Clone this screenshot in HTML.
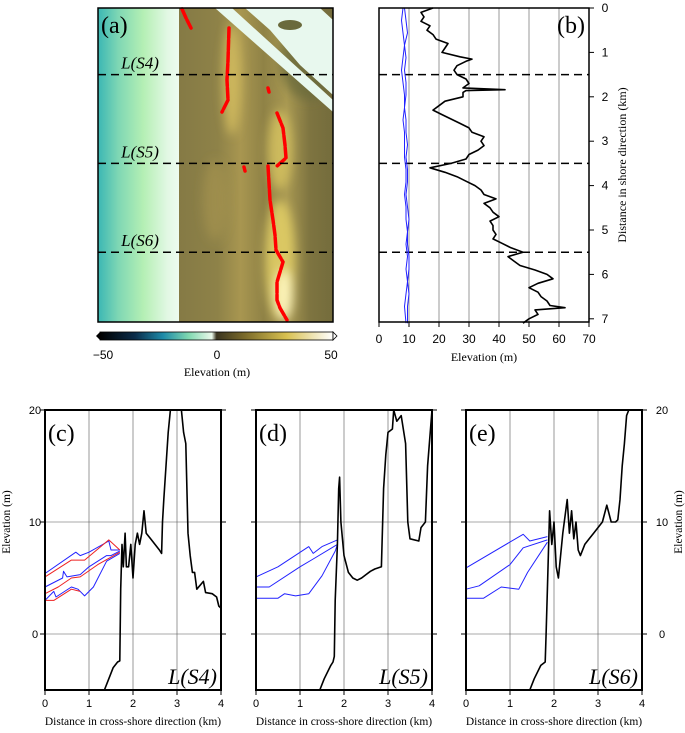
<!DOCTYPE html>
<html><head><meta charset="utf-8"><style>
body{margin:0;background:#fff;width:685px;height:733px;overflow:hidden}
svg{display:block;font-family:"Liberation Serif",serif}
.tk{font-family:"Liberation Sans",sans-serif}
</style></head><body>
<svg id="fig" width="685" height="733" viewBox="0 0 685 733">
<defs>
<linearGradient id="sea" x1="0" x2="1" y1="0" y2="0">
<stop offset="0" stop-color="#3bb7b4"/><stop offset="0.25" stop-color="#7fd7b4"/><stop offset="0.55" stop-color="#b4efb4"/><stop offset="0.85" stop-color="#e2f8e4"/><stop offset="1" stop-color="#eefbf0"/>
</linearGradient>
<linearGradient id="land" x1="0" x2="1" y1="0" y2="0">
<stop offset="0" stop-color="#857a45"/><stop offset="0.25" stop-color="#8e8248"/><stop offset="0.4" stop-color="#a89650"/><stop offset="0.55" stop-color="#8f8246"/><stop offset="0.7" stop-color="#a89852"/><stop offset="0.85" stop-color="#7e7440"/><stop offset="1" stop-color="#746c3c"/>
</linearGradient>
<linearGradient id="cbar" x1="0" x2="1" y1="0" y2="0">
<stop offset="0" stop-color="#000"/><stop offset="0.15" stop-color="#0b2c4a"/><stop offset="0.27" stop-color="#1d8aa8"/><stop offset="0.38" stop-color="#7fd8b0"/><stop offset="0.48" stop-color="#eaf8ea"/><stop offset="0.5" stop-color="#3a3420"/><stop offset="0.62" stop-color="#7a6a2a"/><stop offset="0.8" stop-color="#d8c050"/><stop offset="1" stop-color="#fff"/>
</linearGradient>
<filter id="blur"><feGaussianBlur stdDeviation="5"/></filter>
<clipPath id="clipA"><rect x="98" y="8" width="235" height="314"/></clipPath>
</defs>
<g id="panelA" clip-path="url(#clipA)">
<rect x="98" y="8" width="82" height="314" fill="url(#sea)"/>
<rect x="179" y="8" width="154" height="314" fill="url(#land)"/>
<g filter="url(#blur)">
<ellipse cx="232" cy="80" rx="9" ry="55" fill="#d8c060" opacity="0.8"/>
<ellipse cx="215" cy="200" rx="12" ry="40" fill="#a89450" opacity="0.6"/>
<ellipse cx="280" cy="150" rx="12" ry="40" fill="#d8c460" opacity="0.8"/>
<ellipse cx="280" cy="260" rx="15" ry="60" fill="#e8d468" opacity="0.8"/>
<ellipse cx="284" cy="295" rx="9" ry="25" fill="#fff6c0" opacity="0.9"/>
<ellipse cx="310" cy="60" rx="30" ry="40" fill="#6a6a3c" opacity="0.8"/>
</g>
<polygon points="215,8 232,8 333,100 333,112" fill="#e8f8ee"/>
<polygon points="245,8 320,8 333,20 333,95 300,65 270,30" fill="#e8f8ee"/>
<ellipse cx="290" cy="25" rx="12" ry="5" fill="#6a6a3c"/>
</g>
<g id="redA"></g>
<rect x="98" y="8" width="235" height="314" fill="none" stroke="#000" stroke-width="1.5"/>
<g id="dashA"></g>
<text x="101" y="33" font-size="24">(a)</text>
<polygon points="96,336 100,332 100,340" fill="#000"/>
<rect x="100" y="332" width="233" height="8" fill="url(#cbar)" stroke="#000" stroke-width="0.8"/>
<polygon points="337,336 333,332 333,340" fill="#fff" stroke="#000" stroke-width="0.8"/>
<g font-size="12" text-anchor="middle">
<text class="tk" x="103" y="359">−50</text><text class="tk" x="217" y="359">0</text><text class="tk" x="331" y="359">50</text>
<text x="217" y="376">Elevation (m)</text>
</g>
<g id="panelB"></g>
<g id="panelC"></g>
<g id="panelD"></g>
<g id="panelE"></g>
</svg>
<script>
// Panel (b) data
const bDist = [0,0.1,0.2,0.3,0.4,0.5,0.6,0.7,0.8,0.9,1.0,1.1,1.15,1.2,1.3,1.4,1.5,1.6,1.7,1.8,1.84,1.86,1.9,2.0,2.1,2.2,2.3,2.4,2.5,2.6,2.7,2.8,2.9,3.0,3.1,3.2,3.3,3.4,3.5,3.6,3.7,3.8,3.9,4.0,4.1,4.2,4.3,4.4,4.5,4.6,4.7,4.8,4.9,5.0,5.1,5.2,5.3,5.4,5.5,5.6,5.7,5.8,5.9,6.0,6.1,6.2,6.3,6.4,6.5,6.6,6.7,6.75,6.8,6.9,7.0,7.1];
const bElev = [18,14,15,14,17,16,18,19,23,22,21,27,31,29,26,25,26,29,30,28,42,29,28,28,22,20,18,21,24,27,30,31,35,34,35,33,30,29,24,17,22,26,29,32,34,35,39,35,37,38,40,37,38,38,39,38,41,44,48,43,45,47,52,56,58,53,50,53,54,56,57,62,52,53,50,48];
const bBlue1 = [8,7.5,8,8.5,8,7.5,8,8.5,8.5,8,8.5,8.5,8.5,9,9,8.5,9,9,9.5,9,9.5,9,9.5,9,8.5,9];
const bBlue2 = [8.5,9,9.5,8.5,9,8.5,9,9,8.5,9,9,9.5,9,9.5,9.5,9,9.5,10,9.5,9.5,10,10,9.5,10,9.5,9.5];
const bBlueDist = [0,0.28,0.56,0.84,1.12,1.4,1.68,1.96,2.24,2.52,2.8,3.08,3.36,3.64,3.92,4.2,4.48,4.76,5.04,5.32,5.6,5.88,6.16,6.44,6.72,7.1];
const bDashes = [1.5,3.5,5.5];
const bXTicks = [0,10,20,30,40,50,60,70];
const bYTicks = [0,1,2,3,4,5,6,7];
// Cross-shore profiles
const cBlackX = [1.35,1.45,1.55,1.65,1.7,1.72,1.75,1.78,1.82,1.85,1.9,1.95,2.0,2.05,2.1,2.15,2.2,2.25,2.3,2.4,2.5,2.6,2.65,2.67,2.7,2.75,2.8,2.85,3.0,3.1,3.15,3.2,3.25,3.3,3.35,3.4,3.45,3.6,3.65,3.8,3.9,3.95,4.0];
const cBlackY = [-5,-4,-3,-2.5,-2.4,4,8,6,9,6,6,8,5,8,9,8,9,11,9,8.5,8,7.5,7.2,10,12,15,18,20,20,20,18,17,9,7,5.5,5.5,4,4.7,3.7,3.6,3.3,2.5,2.3];
const cBlue1X = [0,0.7,0.8,1.0,1.45,1.5,1.7]; const cBlue1Y = [5.4,7.3,7.0,7.3,8.3,7.5,7.5];
const cBlue2X = [0,0.4,0.42,0.5,0.8,1.0,1.4,1.5,1.7]; const cBlue2Y = [4.2,5.0,5.6,5.1,5.3,6.0,7.0,7.0,7.4];
const cBlue3X = [0,0.2,0.25,0.6,0.75,0.9,1.1,1.4,1.7]; const cBlue3Y = [3.0,3.8,3.3,4.2,4.0,3.4,4.2,6.5,7.2];
const cRed1X = [0,0.6,0.9,1.45,1.7]; const cRed1Y = [5.1,6.6,6.6,8.4,7.5];
const cRed2X = [0,0.3,0.6,0.8,1.2,1.7]; const cRed2Y = [3.6,4.2,5.0,5.1,6.2,7.3];
const cRed3X = [0,0.2,0.6,0.8]; const cRed3Y = [3.0,3.0,4.0,3.8];
const dBlackX = [1.45,1.55,1.7,1.75,1.78,1.8,1.85,1.88,1.9,1.93,2.0,2.1,2.2,2.3,2.4,2.5,2.6,2.7,2.85,2.9,2.95,3.0,3.1,3.13,3.2,3.3,3.4,3.45,3.5,3.7,3.75,3.85,3.9,4.0];
const dBlackY = [-5,-4,-2.8,-2.5,-2,3,8,13,14,10,7,5.5,5,4.8,5,5.3,5.6,5.8,6,13,16,18,18.3,20,19,19.5,17,10,8.5,8.3,9.5,10,15,20];
const dBlue1X = [0,0.5,1.2,1.3,1.5,1.85]; const dBlue1Y = [5.1,6.0,7.8,7.2,7.8,8.4];
const dBlue2X = [0,0.3,1.0,1.3,1.85]; const dBlue2Y = [4.2,4.2,6.0,6.7,8.0];
const dBlue3X = [0,0.5,0.65,0.9,1.2,1.5,1.8,1.85]; const dBlue3Y = [3.2,3.2,3.6,3.4,3.6,5.2,7.4,8.0];
const eBlackX = [1.45,1.55,1.7,1.8,1.82,1.85,1.9,1.95,2.0,2.05,2.1,2.2,2.3,2.35,2.4,2.45,2.5,2.55,2.6,2.7,2.8,2.9,3.0,3.1,3.2,3.3,3.4,3.45,3.5,3.55,3.6,3.65,3.7];
const eBlackY = [-5,-4,-2.8,-2.5,0,4,11,8,10,6,5,9,12,9,11,8.5,10,7.5,7,8,8.5,9,9.5,10,11.5,10,10,10.2,12,15,17,19.5,20];
const eBlue1X = [0,1.3,1.45,1.85]; const eBlue1Y = [5.9,8.9,8.3,8.7];
const eBlue2X = [0,0.3,1.0,1.3,1.85]; const eBlue2Y = [4.0,4.3,6.2,7.7,8.4];
const eBlue3X = [0,0.4,0.8,1.2,1.4,1.85]; const eBlue3Y = [3.2,3.2,4.2,4.0,5.5,8.2];
const profXTicks = [0,1,2,3,4];
const profYTicks = [0,10,20];

const NS = 'http://www.w3.org/2000/svg';
function mk(tag, attrs, parent) { const e = document.createElementNS(NS, tag); for (const k in attrs) e.setAttribute(k, attrs[k]); parent.appendChild(e); return e; }
function txt(s, x, y, size, parent, anchor) { const t = mk('text', {x:x, y:y, 'font-size':size, 'text-anchor':anchor||'middle'}, parent); t.textContent = s; return t; }

// Panel A red markers
const redA = document.getElementById('redA');
const redSegs = [[[182,9],[186,18],[191,28]],[[229,28],[228,60],[227,80],[228,100],[222,112]],[[268,88],[269,92]],[[277,113],[283,128],[285,145],[286,158],[277,166]],[[244,167],[245,171]],[[268,166],[270,200],[273,220],[275,235],[276,250],[283,262],[277,282],[277,300],[280,308],[287,320]]];
redSegs.forEach(function(s){
  const p = mk('polyline', {points: s.map(function(q){return q.join(',');}).join(' '), fill:'none', stroke:'#f00', 'stroke-width':3.5, 'stroke-linecap':'round', 'stroke-dasharray':'10,2'}, redA);
  
  
});
const dashA = document.getElementById('dashA');
const bY = function(d){ return 8 + d * 44.4; };
const bX = function(v){ return 379 + v * 3; };
const sLabels = ['L(S4)','L(S5)','L(S6)'];
bDashes.forEach(function(d, i){
  const l = mk('line', {x1:98, x2:333, y1:bY(d), y2:bY(d), stroke:'#000', 'stroke-width':1.5, 'stroke-dasharray':'8,5'}, dashA);
  
  
  const t = txt(sLabels[i], 140, bY(d) - 6, 17, dashA);
  t.setAttribute('font-style', 'italic');
  
  
});

// Panel B
const pb = document.getElementById('panelB');
bXTicks.forEach(function(v){
  if (v > 0 && v < 70) mk('line', {x1:bX(v), x2:bX(v), y1:8, y2:322, stroke:'#555', 'stroke-width':0.6}, pb);
  mk('line', {x1:bX(v), x2:bX(v), y1:322, y2:327, stroke:'#000'}, pb);
  const t = txt(String(v), bX(v), 343, 12, pb);
  t.setAttribute('class', 'tk');
  
  
});
bYTicks.forEach(function(v){
  mk('line', {x1:589, x2:594, y1:bY(v), y2:bY(v), stroke:'#000'}, pb);
  const t = txt(String(v), 605, bY(v) + 4, 12, pb);
  t.setAttribute('class', 'tk');
  
  
});
bDashes.forEach(function(d){
  const l = mk('line', {x1:379, x2:589, y1:bY(d), y2:bY(d), stroke:'#000', 'stroke-width':1.5, 'stroke-dasharray':'8,5'}, pb);
  
  
});
function line(xs, ys, fx, fy, color, w, parent, name) {
  const p = mk('polyline', {points: xs.map(function(x, i){ return fx(x).toFixed(1) + ',' + fy(ys[i]).toFixed(1); }).join(' '), fill:'none', stroke:color, 'stroke-width':w, 'stroke-linejoin':'round'}, parent);
  
  
  return p;
}
line(bBlue1, bBlueDist, bX, bY, '#22f', 1, pb, 'b-blue-line-1');
line(bBlue2, bBlueDist, bX, bY, '#22f', 1, pb, 'b-blue-line-2');
line(bElev, bDist, bX, bY, '#000', 1.6, pb, 'b-elevation-line');
mk('rect', {x:379, y:8, width:210, height:314, fill:'none', stroke:'#000', 'stroke-width':1.5}, pb);
const bl = txt('(b)', 571, 33, 24, pb);  
const bxt = txt('Elevation (m)', 484, 361, 12, pb);  
const byt = txt('Distance in shore direction (km)', 0, 0, 12, pb);
byt.setAttribute('transform', 'translate(626,165) rotate(-90)');
 

// Profiles
function profile(id, x0, label, tag, blacks, blues, reds, leftAxis, rightAxis) {
  const g = document.getElementById(id);
  const W = 176, top = 410, bottom = 690;
  const fx = function(v){ return x0 + v * W / 4; };
  const fy = function(v){ return 634 - v * 11.2; };
  profXTicks.forEach(function(v){
    if (v > 0 && v < 4) mk('line', {x1:fx(v), x2:fx(v), y1:top, y2:bottom, stroke:'#555', 'stroke-width':0.6}, g);
    mk('line', {x1:fx(v), x2:fx(v), y1:bottom, y2:bottom + 5, stroke:'#000'}, g);
    const t = txt(String(v), fx(v), 707, 11, g);
    t.setAttribute('class', 'tk');
     
  });
  profYTicks.forEach(function(v){
    if (v < 20) mk('line', {x1:x0, x2:x0 + W, y1:fy(v), y2:fy(v), stroke:'#555', 'stroke-width':0.6}, g);
    mk('line', {x1:x0 - 5, x2:x0, y1:fy(v), y2:fy(v), stroke:'#000'}, g);
    mk('line', {x1:x0 + W, x2:x0 + W + 5, y1:fy(v), y2:fy(v), stroke:'#000'}, g);
    if (leftAxis) { const t = txt(String(v), x0 - 10, fy(v) + 4, 11, g); t.setAttribute('class', 'tk');   }
    if (rightAxis) { const t = txt(String(v), x0 + W + 20, fy(v) + 4, 11, g); t.setAttribute('class', 'tk');   }
  });
  blues.forEach(function(b){ line(b[0], b[1], fx, fy, '#22f', 1, g, 'blue-profile'); });
  reds.forEach(function(b){ line(b[0], b[1], fx, fy, '#e22', 1, g, 'red-profile'); });
  blacks.forEach(function(b){ line(b[0], b[1], fx, fy, '#000', 1.6, g, 'topography-profile'); });
  mk('rect', {x:x0, y:top, width:W, height:bottom - top, fill:'none', stroke:'#000', 'stroke-width':2}, g);
  const pl = txt(tag, x0 + 3, 441, 24, g, 'start');  
  const ll = txt(label, x0 + W - 4, 684, 22, g, 'end'); ll.setAttribute('font-style', 'italic');  
  const xt = txt('Distance in cross-shore direction (km)', x0 + W / 2, 725, 11.5, g);  
  if (leftAxis) { const yt = txt('Elevation (m)', 0, 0, 11.5, g); yt.setAttribute('transform', 'translate(10,522) rotate(-90)');   }
  if (rightAxis) { const yt = txt('Elevation (m)', 0, 0, 11.5, g); yt.setAttribute('transform', 'translate(682,522) rotate(-90)');   }
}
profile('panelC', 45, 'L(S4)', '(c)', [[cBlackX, cBlackY]], [[cBlue1X, cBlue1Y], [cBlue2X, cBlue2Y], [cBlue3X, cBlue3Y]], [[cRed1X, cRed1Y], [cRed2X, cRed2Y], [cRed3X, cRed3Y]], true, false);
profile('panelD', 256, 'L(S5)', '(d)', [[dBlackX, dBlackY]], [[dBlue1X, dBlue1Y], [dBlue2X, dBlue2Y], [dBlue3X, dBlue3Y]], [], false, false);
profile('panelE', 466, 'L(S6)', '(e)', [[eBlackX, eBlackY]], [[eBlue1X, eBlue1Y], [eBlue2X, eBlue2Y], [eBlue3X, eBlue3Y]], [], false, true);
</script>
</body></html>
